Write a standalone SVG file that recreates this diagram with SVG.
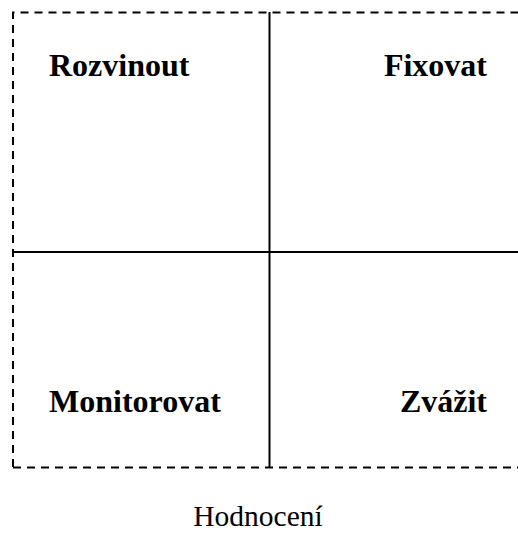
<svg xmlns="http://www.w3.org/2000/svg" width="518" height="533" viewBox="0 0 518 533">
<style>
.frame{fill:none;stroke:#000;stroke-width:2;stroke-dasharray:8,6}
.axis{stroke:#000;stroke-width:2;fill:none}
.lbl{font-family:"Liberation Serif","Times New Roman",serif;font-weight:bold;font-size:32px;fill:#000}
.cap{font-family:"Liberation Serif","Times New Roman",serif;font-size:29.5px;fill:#000}
</style>
<rect width="518" height="533" fill="#fff"/>
<g id="connectors">
<path class="frame" d="M13,467 V12.5 H530 M13,467.5 H530"/>
<line class="axis" x1="269.5" y1="12" x2="269.5" y2="467"/>
<line class="axis" x1="13" y1="252" x2="518" y2="252"/>
</g>
<g id="q-rozvinout"><text class="lbl" x="49" y="76">Rozvinout</text></g>
<g id="q-fixovat"><text class="lbl" x="487" y="76" text-anchor="end">Fixovat</text></g>
<g id="q-monitorovat"><text class="lbl" x="49" y="412">Monitorovat</text></g>
<g id="q-zvazit"><text class="lbl" x="487" y="412" text-anchor="end">Zvážit</text></g>
<g id="axis-label"><text class="cap" x="258" y="526" text-anchor="middle">Hodnocení</text></g>
</svg>
